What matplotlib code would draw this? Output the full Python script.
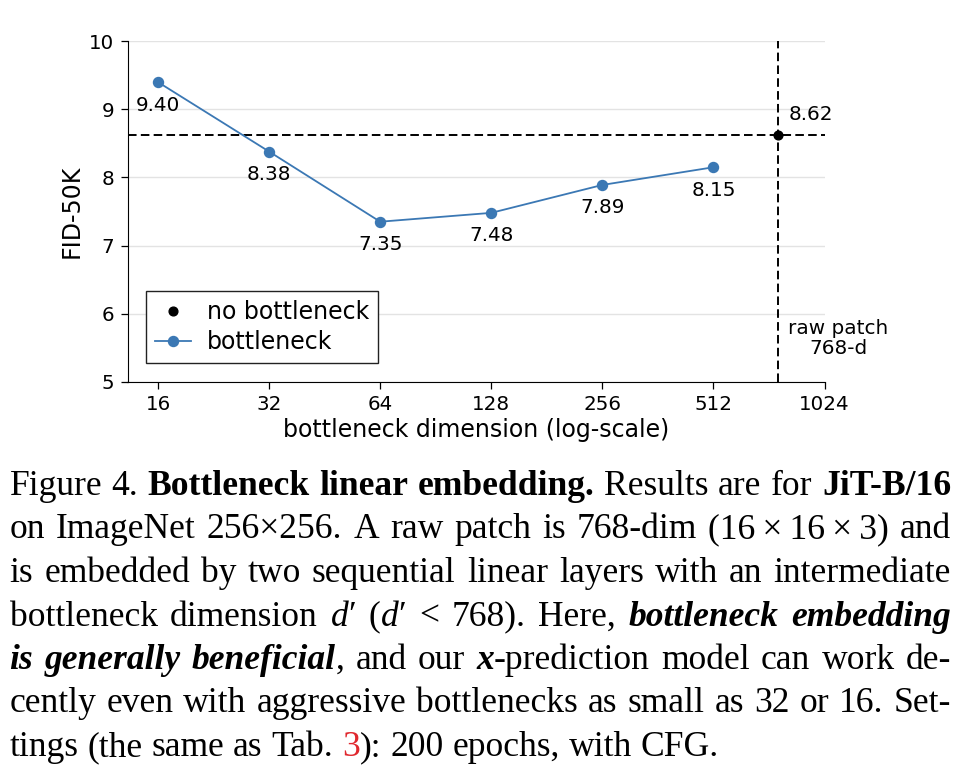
import matplotlib

matplotlib.use("Agg")

import matplotlib.pyplot as plt
from matplotlib.lines import Line2D
from matplotlib.ticker import NullLocator

# chart data
dims = [16, 32, 64, 128, 256, 512]
fid = [9.40, 8.38, 7.35, 7.48, 7.89, 8.15]
raw_dim = 768
raw_fid = 8.62
xticks = [16, 32, 64, 128, 256, 512, 1024]
yticks = [5, 6, 7, 8, 9, 10]

# caption: each line is a list of words, each word a list of (text, style) runs
R, B, I, BI, RED = "r", "b", "i", "bi", "red"


def plain(s, st=R):
    return [[(w, st)] for w in s.split()]


caption_lines = [
    plain("Figure 4.") + plain("Bottleneck linear embedding.", B) + plain("Results are for")
    + plain("JiT-B/16", B),
    plain("on ImageNet 256×256. A raw patch is 768-dim")
    + [[("(16\u2009×\u200916\u2009×\u20093)", R)]] + plain("and"),
    plain("is embedded by two sequential linear layers with an intermediate"),
    plain("bottleneck dimension") + [[("d", I), ("\u2032", R)]] + [[("(", R), ("d", I), ("\u2032", R)]]
    + plain("< 768). Here,") + plain("bottleneck embedding", BI),
    plain("is generally", BI) + [[("beneficial", BI), (",", R)]] + plain("and our")
    + [[("x", BI), ("-prediction", R)]] + plain("model can work de-"),
    plain("cently even with aggressive bottlenecks as small as 32 or 16. Set-"),
    plain("tings (the same as Tab.") + [[("3", RED), ("):", R)]] + plain("200 epochs, with CFG."),
]

W_PX, H_PX = 976, 782
BLUE = "#3b78b4"
SERIF = ["Liberation Serif", "DejaVu Serif"]

fig = plt.figure(figsize=(W_PX / 100, H_PX / 100), dpi=100)
ax = fig.add_axes([127.5 / W_PX, 1 - 381.7 / H_PX, 697 / W_PX, 340.4 / H_PX])

ax.set_xscale("log", base=2)
ax.set_xlim(16 / 2 ** 0.275, 1024)
ax.set_ylim(5, 10)
ax.set_xticks(xticks)
ax.set_xticklabels([str(t) for t in xticks])
ax.xaxis.set_minor_locator(NullLocator())
ax.set_yticks(yticks)
ax.grid(axis="y", color="#e3e3e3", lw=1.0, zorder=0)
ax.set_axisbelow(True)
for side in ("top", "right"):
    ax.spines[side].set_visible(False)
ax.tick_params(labelsize=14.3, length=4.8, width=0.9, pad=4.5)

dash = (0, (4.4, 2.2))
ax.axhline(raw_fid, color="black", lw=1.4, ls=dash, zorder=2)
ax.axvline(raw_dim, color="black", lw=1.4, ls=dash, zorder=2)
ax.plot(dims, fid, color=BLUE, lw=1.3, marker="o", ms=7.2, zorder=3)
ax.plot([raw_dim], [raw_fid], "o", color="black", ms=6.3, zorder=4)

for d, f in zip(dims, fid):
    ax.annotate(f"{f:.2f}", (d, f), xytext=(0, -16.5), textcoords="offset points",
                ha="center", va="center", fontsize=14.4)
ax.annotate(f"{raw_fid:.2f}", (raw_dim, raw_fid), xytext=(7.2, 15.3), textcoords="offset points",
            ha="left", va="center", fontsize=14.4)
ax.annotate("raw patch\n768-d", (raw_dim, 5.64), xytext=(43, 0), textcoords="offset points",
            ha="center", va="center", multialignment="center", fontsize=14.4,
            linespacing=1.05, annotation_clip=False)

ax.set_xlabel("bottleneck dimension (log-scale)", fontsize=17, labelpad=3)
ax.set_ylabel("FID-50K", fontsize=17, labelpad=4)

handles = [
    Line2D([], [], ls="none", marker="o", color="black", ms=6.3),
    Line2D([], [], color=BLUE, lw=1.3, marker="o", ms=7.2),
]
ax.legend(handles, ["no bottleneck", "bottleneck"], loc="lower left",
          bbox_to_anchor=(0.026, 0.055), borderaxespad=0, fontsize=17,
          fancybox=False, framealpha=1, edgecolor="#222222", labelspacing=0.25,
          borderpad=0.38, handlelength=1.56, handletextpad=0.64)

# caption, justified line by line
styles = {
    R: dict(),
    B: dict(weight="bold"),
    I: dict(style="italic"),
    BI: dict(weight="bold", style="italic"),
    RED: dict(color="#e0282e"),
}
cap_fs = 25.6
cap_left, cap_right = 9.5, 951.0
base0, line_gap = 495.0, 43.5
space_px = 0.25 * cap_fs * 100 / 72

renderer = fig.canvas.get_renderer()
for li, line in enumerate(caption_lines):
    y = 1 - (base0 + li * line_gap) / H_PX
    placed = []
    for word in line:
        runs = []
        for text, st in word:
            t = fig.text(0, y, text, fontsize=cap_fs, family=SERIF, va="baseline",
                         ha="left", **styles[st])
            runs.append((t, t.get_window_extent(renderer).width))
        placed.append(runs)
    widths = [sum(w for _, w in runs) for runs in placed]
    if li == len(caption_lines) - 1:
        gap = space_px
    else:
        gap = (cap_right - cap_left - sum(widths)) / (len(placed) - 1)
    x = cap_left
    for runs, ww in zip(placed, widths):
        xr = x
        for t, w in runs:
            t.set_x(xr / W_PX)
            xr += w
        x += ww + gap

fig.savefig("out.png", dpi=100)
